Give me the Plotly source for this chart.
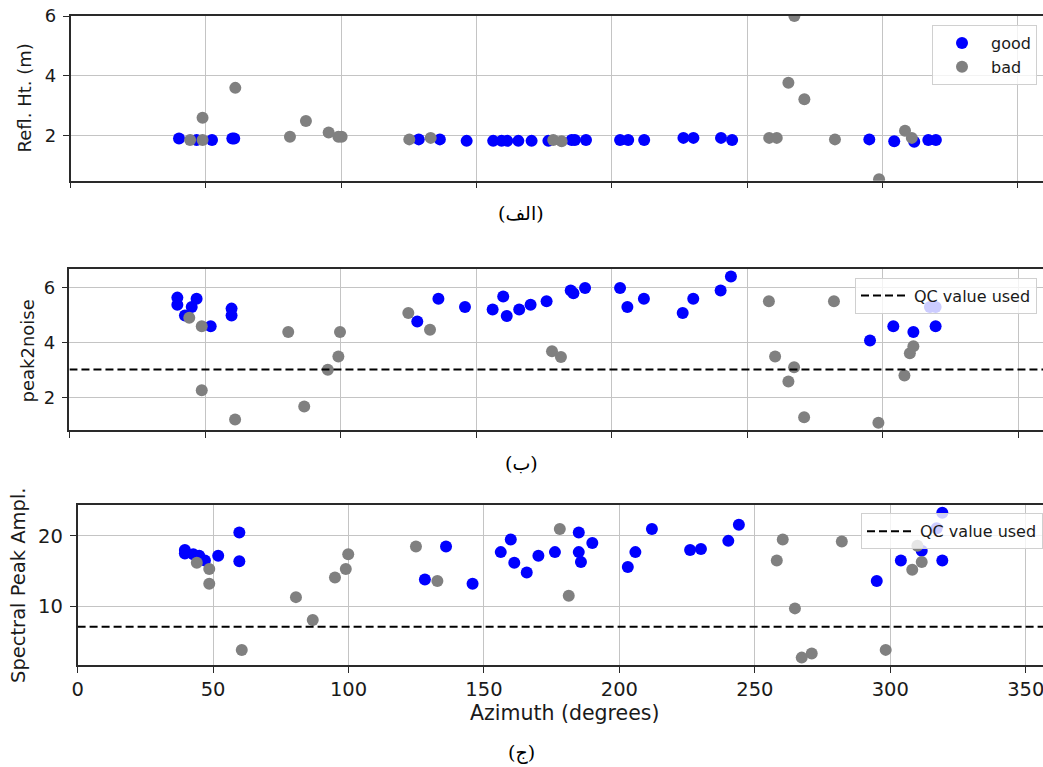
import plotly.graph_objects as go

W, H = 1043, 767

# ---------------- data ----------------
# Panel (a): reflector height
a_good_az = [40.1, 46.6, 52.3, 59.8, 60.5, 128.7, 136.5, 146.4, 156.2, 159.3, 161.4, 165.5,
             170.4, 176.6, 185.2, 186.4, 190.5, 203.1, 206.1, 212.0, 226.5, 230.2, 240.4,
             244.5, 295.2, 304.4, 311.8, 317.0, 319.8]
a_good_ht = [1.91, 1.86, 1.86, 1.91, 1.91, 1.88, 1.88, 1.83, 1.83, 1.83, 1.83, 1.83,
             1.83, 1.83, 1.86, 1.86, 1.86, 1.86, 1.86, 1.86, 1.93, 1.93, 1.93,
             1.86, 1.88, 1.82, 1.80, 1.86, 1.86]
a_bad_az = [44.2, 48.8, 48.8, 60.9, 81.1, 87.0, 95.4, 99.0, 100.2, 125.2, 133.1, 178.4,
            181.5, 258.2, 261.0, 265.3, 267.5, 271.2, 282.5, 298.8, 308.4, 310.9]
a_bad_ht = [1.86, 1.86, 2.60, 3.60, 1.97, 2.49, 2.11, 1.97, 1.97, 1.88, 1.93, 1.86,
            1.82, 1.93, 1.93, 3.77, 6.00, 3.22, 1.88, 0.55, 2.17, 1.93]

# Panel (b): peak2noise
b_good_az = [39.8, 39.8, 42.6, 45.1, 46.9, 52.1, 59.8, 59.8, 128.3, 136.1, 145.9, 156.1,
             160.0, 161.3, 165.9, 170.1, 176.0, 184.9, 185.9, 190.2, 203.1, 205.8, 211.9,
             226.2, 230.1, 240.2, 244.0, 295.3, 303.9, 311.3, 317.4, 319.5, 319.5]
b_good_p2n = [5.64, 5.38, 4.99, 5.30, 5.60, 4.60, 5.24, 4.99, 4.77, 5.60, 5.30, 5.21,
              5.68, 4.97, 5.21, 5.38, 5.51, 5.90, 5.80, 5.99, 5.99, 5.30, 5.60,
              5.08, 5.60, 5.90, 6.41, 4.08, 4.60, 4.39, 5.30, 5.30, 4.60]
b_bad_az = [44.2, 48.8, 48.8, 61.1, 80.7, 86.6, 95.3, 99.2, 99.8, 125.0, 133.0, 178.0,
            181.3, 258.0, 260.3, 265.2, 267.3, 271.0, 282.0, 298.4, 308.0, 310.0, 311.3]
b_bad_p2n = [4.91, 4.60, 2.27, 1.21, 4.39, 1.68, 3.02, 3.50, 4.39, 5.08, 4.47, 3.69,
             3.48, 5.51, 3.50, 2.59, 3.11, 1.29, 5.51, 1.09, 2.81, 3.62, 3.87]
b_qc = 3.03

# Panel (c): spectral peak amplitude
c_good_az = [39.6, 39.6, 42.7, 44.9, 47.0, 51.9, 59.7, 59.7, 128.2, 136.0, 145.8, 156.2,
             159.9, 161.2, 165.8, 170.1, 176.2, 185.0, 185.0, 185.8, 190.0, 203.1, 205.9,
             212.0, 226.1, 230.1, 240.2, 244.1, 295.0, 303.9, 311.6, 317.1, 319.2, 319.2]
c_good_amp = [18.0, 17.5, 17.4, 17.2, 16.5, 17.2, 20.5, 16.4, 13.8, 18.5, 13.2, 17.7,
              19.5, 16.2, 14.8, 17.2, 17.7, 20.5, 17.7, 16.3, 19.0, 15.6, 17.7,
              21.0, 18.0, 18.15, 19.3, 21.6, 13.6, 16.5, 17.9, 21.1, 16.5, 23.3]
c_bad_az = [44.0, 48.6, 48.6, 60.6, 80.6, 86.8, 95.0, 99.0, 99.9, 124.9, 132.8, 178.0,
            181.3, 258.1, 260.3, 264.8, 267.3, 271.0, 282.1, 298.3, 308.1, 310.0, 311.6]
c_bad_amp = [16.2, 15.3, 13.2, 3.78, 11.3, 8.05, 14.1, 15.3, 17.4, 18.5, 13.6, 21.0,
             11.5, 16.5, 19.5, 9.7, 2.7, 3.3, 19.2, 3.8, 15.2, 18.6, 16.3]
c_qc = 7.1

x_ticks = [0, 50, 100, 150, 200, 250, 300, 350]
a_yticks = [2, 4, 6]
b_yticks = [2, 4, 6]
c_yticks = [10, 20]

y_titles = ["Refl. Ht. (m)", "peak2noise", "Spectral Peak Ampl."]
x_title = "Azimuth (degrees)"
captions = ["(الف)", "(ب)", "(ج)"]

# ---------------- styling ----------------
GOOD = "#0000ff"
BAD = "#808080"
FONT = "DejaVu Sans"
TXT = "#1a1a1a"
GRID = "#c4c4c4"
LINE = "#2a2a2a"
MS = 12

def px_x(p):
    return p / W

def px_y(p):
    return 1 - p / H

fig = go.Figure()

# panel a
fig.add_trace(go.Scatter(x=a_good_az, y=a_good_ht, mode="markers", name="good",
                         marker=dict(color=GOOD, size=MS, line=dict(width=0)),
                         xaxis="x", yaxis="y", legend="legend"))
fig.add_trace(go.Scatter(x=a_bad_az, y=a_bad_ht, mode="markers", name="bad",
                         marker=dict(color=BAD, size=MS, line=dict(width=0)),
                         xaxis="x", yaxis="y", legend="legend"))

# panel b
fig.add_trace(go.Scatter(x=b_good_az, y=b_good_p2n, mode="markers", name="good",
                         marker=dict(color=GOOD, size=MS, line=dict(width=0)),
                         xaxis="x2", yaxis="y2", showlegend=False))
fig.add_trace(go.Scatter(x=b_bad_az, y=b_bad_p2n, mode="markers", name="bad",
                         marker=dict(color=BAD, size=MS, line=dict(width=0)),
                         xaxis="x2", yaxis="y2", showlegend=False))

# panel c
fig.add_trace(go.Scatter(x=c_good_az, y=c_good_amp, mode="markers", name="good",
                         marker=dict(color=GOOD, size=MS, line=dict(width=0)),
                         xaxis="x3", yaxis="y3", showlegend=False))
fig.add_trace(go.Scatter(x=c_bad_az, y=c_bad_amp, mode="markers", name="bad",
                         marker=dict(color=BAD, size=MS, line=dict(width=0)),
                         xaxis="x3", yaxis="y3", showlegend=False))

# axis geometry (pixel-derived)
ax_geo = {
    1: dict(left=70.5, ppd=2.706, top=16.0, bottom=180.7, yr=[0.5, 6.0], yt=a_yticks, fs=18),
    2: dict(left=69.45, ppd=2.711, top=269.3, bottom=430.0, yr=[0.825, 6.67], yt=b_yticks, fs=18),
    3: dict(left=77.6, ppd=2.709, top=505.0, bottom=665.0, yr=[1.65, 24.4], yt=c_yticks, fs=19.5),
}

# QC lines span the x range
for i, qc in ((2, b_qc), (3, c_qc)):
    g = ax_geo[i]
    xmax = (W - g["left"]) / g["ppd"]
    fig.add_trace(go.Scatter(x=[0, xmax], y=[qc, qc], mode="lines", name="QC value used",
                             line=dict(color="black", width=2, dash="8px,4px"),
                             xaxis=f"x{i}", yaxis=f"y{i}", legend=f"legend{i}",
                             hoverinfo="skip"))

layout = dict(
    width=W, height=H,
    margin=dict(l=0, r=0, t=0, b=0),
    paper_bgcolor="white", plot_bgcolor="white",
    font=dict(family=FONT, color=TXT, size=18),
    showlegend=True,
)

for i, g in ax_geo.items():
    xs = "" if i == 1 else str(i)
    xmax = (W - g["left"]) / g["ppd"]
    layout[f"xaxis{xs}"] = dict(
        domain=[px_x(g["left"]), 1.0], range=[0, xmax], anchor=f"y{xs}",
        tickvals=x_ticks, showticklabels=(i == 3),
        ticks="outside", ticklen=6, tickwidth=1.2, tickcolor=LINE,
        tickfont=dict(size=g["fs"], family=FONT, color=TXT),
        showgrid=True, gridcolor=GRID, gridwidth=1.2,
        showline=True, linecolor=LINE, linewidth=1.5, mirror=True,
        zeroline=False, automargin=False, ticklabelstandoff=0,
        ticklabeloverflow="allow",
    )
    layout[f"yaxis{xs}"] = dict(
        domain=[px_y(g["bottom"]), px_y(g["top"])], range=g["yr"], anchor=f"x{xs}",
        tickvals=g["yt"],
        ticks="outside", ticklen=6, tickwidth=1.2, tickcolor=LINE,
        tickfont=dict(size=g["fs"], family=FONT, color=TXT),
        showgrid=True, gridcolor=GRID, gridwidth=1.2,
        showline=True, linecolor=LINE, linewidth=1.5, mirror=False,
        zeroline=False, automargin=False, ticklabelstandoff=3,
    )

leg_common = dict(bgcolor="rgba(255,255,255,0.8)", bordercolor="#d0d0d0", borderwidth=1,
                  font=dict(size=16, family=FONT, color=TXT),
                  xanchor="right", yanchor="top", itemwidth=48)
layout["legend"] = dict(x=px_x(1037), y=px_y(25), **leg_common)
layout["legend2"] = dict(x=px_x(1037), y=px_y(277.7), **leg_common)
layout["legend3"] = dict(x=1.0, y=px_y(513.3), **leg_common)

fig.update_layout(**layout)

# axis titles and captions
ann = []
title_pos = [(24, 98.4, 18), (26.5, 351.0, 18), (18, 585.0, 19.5)]
for t, (x, y, fs) in zip(y_titles, title_pos):
    ann.append(dict(text=t, x=px_x(x), y=px_y(y), xref="paper", yref="paper",
                    showarrow=False, textangle=-90, xanchor="center", yanchor="middle",
                    font=dict(size=fs, family=FONT, color=TXT)))
ann.append(dict(text=x_title, x=px_x(565), y=px_y(713), xref="paper", yref="paper",
                showarrow=False, xanchor="center", yanchor="middle",
                font=dict(size=20.5, family=FONT, color=TXT)))
for t, y in zip(captions, (213, 463, 752)):
    ann.append(dict(text=t, x=px_x(521), y=px_y(y), xref="paper", yref="paper",
                    showarrow=False, xanchor="center", yanchor="middle",
                    font=dict(size=19, family="DejaVu Serif, DejaVu Sans, serif", color="black")))
fig.update_layout(annotations=ann)

fig.write_html("out.html", config={"displayModeBar": False},
               post_script="document.body.style.margin='0';document.body.style.overflow='hidden';")
